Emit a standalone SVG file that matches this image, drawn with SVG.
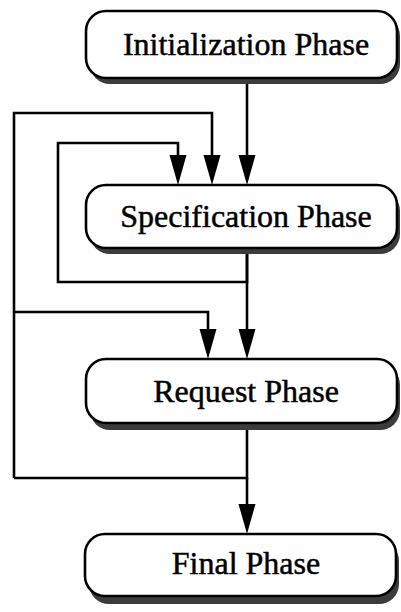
<svg xmlns="http://www.w3.org/2000/svg" width="401" height="612" viewBox="0 0 401 612">
<style>
.box{fill:#fff;stroke:#000;stroke-width:2.6}
.shadow{fill:#3c3c3c}
.label{font-family:"Liberation Serif","Times New Roman",serif;font-size:32px;fill:#000;stroke:#000;stroke-width:0.5;text-anchor:middle}
.conn{fill:none;stroke:#000;stroke-width:2.6}
</style>
<defs>
<marker id="arrow" markerUnits="userSpaceOnUse" markerWidth="30" markerHeight="18" refX="30" refY="9" orient="auto" viewBox="0 0 30 18">
<path d="M0,0 L30,9 L0,18 Z" fill="#000"/>
</marker>
</defs>
<rect width="401" height="612" fill="#fff"/>
<g id="connectors">
<path class="conn" d="M247,84 V170"/>
<path class="conn" d="M14,478 V113 H212 V170"/>
<path class="conn" d="M247,254 V282 H58 V143 H178 V170"/>
<path class="conn" d="M247,254 V345"/>
<path class="conn" d="M14,312 H208 V345"/>
<path class="conn" d="M247,430 V478 H14"/>
<path class="conn" d="M247,478 V520"/>
<path d="M238.5,155 L255.5,155 L247,185 Z"/>
<path d="M203.5,155 L220.5,155 L212,185 Z"/>
<path d="M169.5,155 L186.5,155 L178,185 Z"/>
<path d="M238.5,329 L255.5,329 L247,359 Z"/>
<path d="M199.5,329 L216.5,329 L208,359 Z"/>
<path d="M238.5,504 L255.5,504 L247,534 Z"/>
</g>
<g id="initialization">
<rect class="shadow" x="90" y="16" width="310" height="68" rx="20"/>
<rect class="box" x="86" y="11" width="311" height="67" rx="20"/>
<text class="label" x="246" y="55">Initialization Phase</text>
</g>
<g id="specification">
<rect class="shadow" x="90" y="191" width="310" height="63" rx="20"/>
<rect class="box" x="86" y="185" width="311" height="63" rx="20"/>
<text class="label" x="246" y="227">Specification Phase</text>
</g>
<g id="request">
<rect class="shadow" x="90" y="365" width="310" height="65" rx="20"/>
<rect class="box" x="86" y="359" width="311" height="64" rx="20"/>
<text class="label" x="246" y="402">Request Phase</text>
</g>
<g id="final">
<rect class="shadow" x="89" y="541" width="310" height="63" rx="20"/>
<rect class="box" x="85" y="534" width="311" height="62" rx="20"/>
<text class="label" x="246" y="574">Final Phase</text>
</g>
</svg>
